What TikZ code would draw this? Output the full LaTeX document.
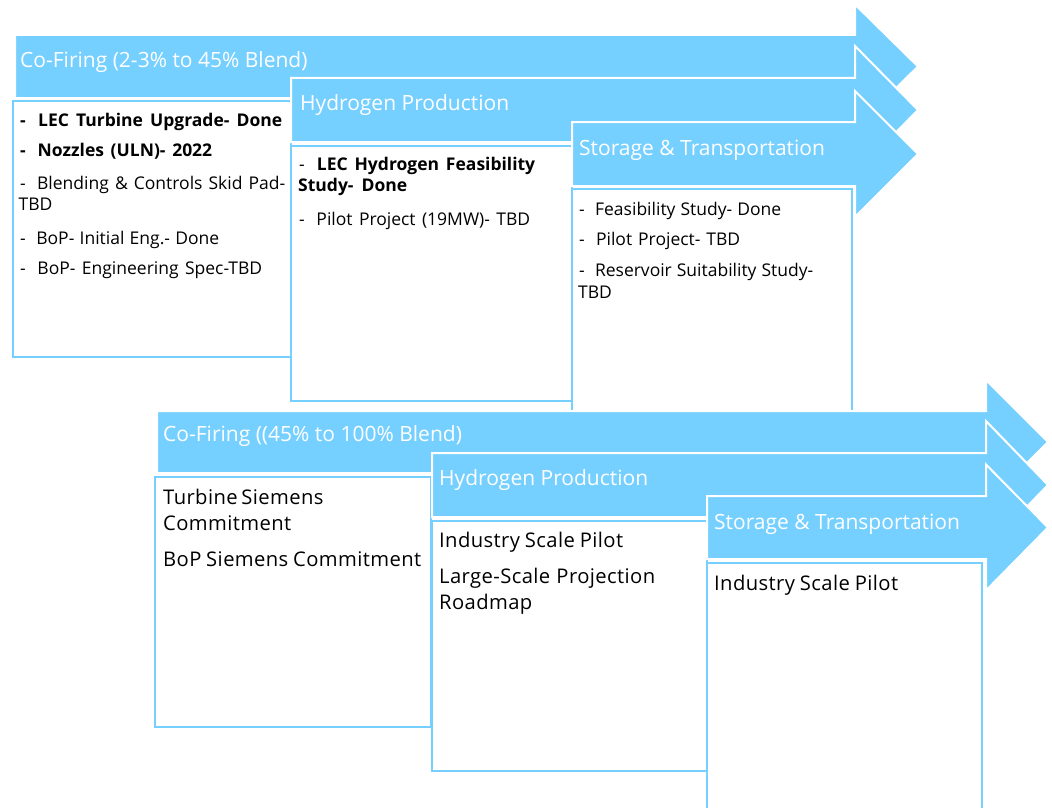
\documentclass[tikz,border=0pt]{standalone}
\usepackage{fontspec}
\setmainfont{Open Sans}
\definecolor{stageblue}{RGB}{118,208,255}
\tikzset{
  stagearrow/.style={fill=stageblue, draw=white, line width=2pt, line join=miter},
  stagebox/.style={fill=white, draw=stageblue, line width=2.5pt},
  heading/.style={anchor=base west, inner sep=0pt, text=white, font=\fontsize{21}{25}\selectfont},
  item/.style={anchor=base west, inner sep=0pt, text=black, font=\fontsize{17.5}{21}\selectfont},
  bigitem/.style={anchor=base west, inner sep=0pt, text=black, font=\fontsize{20.2}{24}\selectfont\addfontfeatures{LetterSpace=2}},
}
% #1 x0, #2 ytop, #3 ybot, #4 xhead, #5 xtip, #6 half head height
\newcommand\stagearrowshape[6]{%
  \path[stagearrow] (#1,#2) -- (#4,#2) -- (#4,{(#2+#3)/2-#6}) -- (#5,{(#2+#3)/2})
    -- (#4,{(#2+#3)/2+#6}) -- (#4,#3) -- (#1,#3) -- cycle;}
\newcommand\jline[2]{\makebox[#1pt][s]{#2}}
\newcommand\dashgap{-\hspace{0.3em} }
\begin{document}
\begin{tikzpicture}[x=1pt,y=-1pt]
\clip (0,0) rectangle (1052,808);
\fill[white] (0,0) rectangle (1052,808);
% ---------- group 1 ----------
\stagearrowshape{15}{35}{98}{855}{918}{62}
\path[stagebox] (13,101) rectangle (291,357);
\stagearrowshape{291}{78}{142}{855}{918}{64}
\path[stagebox] (291,146) rectangle (572,401);
\stagearrowshape{572}{122}{186}{855}{918}{63}
\path[stagebox] (572,189) rectangle (852,444);
% ---------- group 2 ----------
\stagearrowshape{157}{411}{473}{986}{1048}{62}
\path[stagebox] (155,477) rectangle (431,727);
\stagearrowshape{432}{453}{517}{986}{1048}{64}
\path[stagebox] (432,521) rectangle (707,771);
\stagearrowshape{707}{496}{559}{986}{1048}{63}
\path[stagebox] (707,563) rectangle (982,818);
% ---------- headings ----------
\node[heading] (h1) at (20,67.7) {Co-Firing (2-3\% to 45\% Blend)};
\node[heading] (h2) at (300,110.7) {Hydrogen Production};
\node[heading] (h3) at (579,155) {Storage \& Transportation};
\node[heading] (h4) at (163,441.7) {Co-Firing ((45\% to 100\% Blend)};
\node[heading] (h5) at (439,485) {Hydrogen Production};
\node[heading] (h6) at (714,529.3) {Storage \& Transportation};
% ---------- group 1 items ----------
\node[item] (a1) at (20,126.7) {\jline{262}{\bfseries \dashgap LEC Turbine Upgrade- Done}};
\node[item] (a2) at (20,156.7) {\jline{192}{\bfseries \dashgap Nozzles (ULN)- 2022}};
\node[item] (a3) at (20,189) {\jline{265}{\dashgap Blending \& Controls Skid Pad-}};
\node[item] (a4) at (18.5,210.7) {TBD};
\node[item] (a5) at (20,244) {\jline{199}{\dashgap BoP- Initial Eng.- Done}};
\node[item] (a6) at (20,274) {\jline{242}{\dashgap BoP- Engineering Spec-TBD}};
\node[item] (b1) at (299,170) {\jline{236}{\dashgap \bfseries LEC Hydrogen Feasibility}};
\node[item] (b2) at (298,191.7) {\jline{109}{\bfseries Study- Done}};
\node[item] (b3) at (299,225) {\jline{231}{\dashgap Pilot Project (19MW)- TBD}};
\node[item] (c1) at (579,215) {\jline{202}{\dashgap Feasibility Study- Done}};
\node[item] (c2) at (579,245) {\jline{161}{\dashgap Pilot Project- TBD}};
\node[item] (c3) at (579,276.7) {\jline{234}{\dashgap Reservoir Suitability Study-}};
\node[item] (c4) at (578,298.3) {TBD};
% ---------- group 2 items ----------
\node[bigitem] (d1) at (163,504) {\jline{160}{Turbine Siemens}};
\node[bigitem] (d2) at (163,530) {Commitment};
\node[bigitem] (d3) at (163,566) {\jline{258}{BoP Siemens Commitment}};
\node[bigitem] (e1) at (439,547.3) {\jline{184}{Industry Scale Pilot}};
\node[bigitem] (e2) at (439,583.3) {\jline{216}{Large-Scale Projection}};
\node[bigitem] (e3) at (439,609) {Roadmap};
\node[bigitem] (f1) at (714,590.7) {\jline{184}{Industry Scale Pilot}};
\end{tikzpicture}
\end{document}
